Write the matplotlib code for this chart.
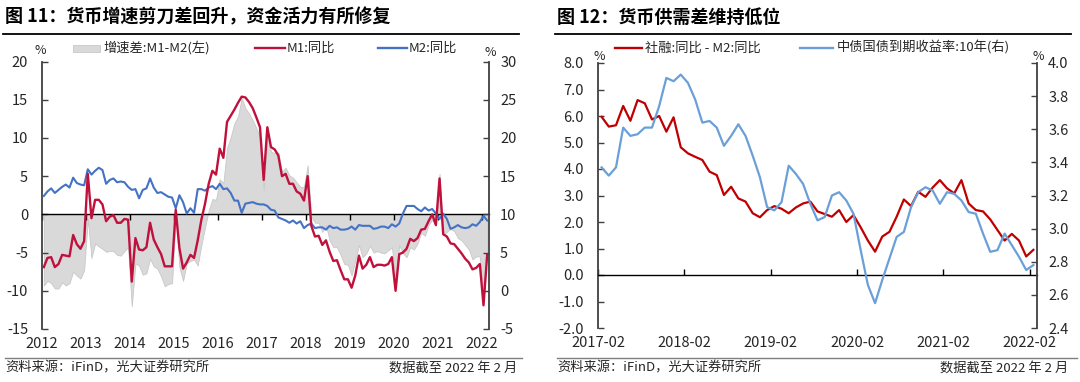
import matplotlib
matplotlib.use("Agg")
import matplotlib.pyplot as plt
import numpy as np
from matplotlib.lines import Line2D
from matplotlib.patches import Rectangle
from matplotlib.ticker import FormatStrFormatter

plt.rcParams["font.family"] = ["Noto Sans CJK SC", "DejaVu Sans"]
plt.rcParams["axes.unicode_minus"] = False

# ---- left chart: M1 / M2 yoy, monthly 2012-01 .. 2022-02 ----
years_left = [str(y) for y in range(2012, 2023)]
m1_yoy = [
    3.1, 4.3, 4.4, 3.1, 3.5, 4.7, 4.6, 4.5, 7.3, 6.1, 5.5, 6.5,
    15.3, 9.5, 11.9, 11.9, 11.3, 9.1, 9.7, 9.9, 8.9, 8.9, 9.4, 9.3,
    1.2, 6.9, 5.4, 5.3, 5.7, 8.9, 6.7, 5.7, 4.8, 3.2, 3.2, 3.2,
    10.6, 5.6, 2.9, 3.7, 4.7, 4.3, 6.6, 9.3, 11.4, 14.0, 15.7, 15.2,
    18.6, 17.4, 22.1, 22.9, 23.7, 24.6, 25.4, 25.3, 24.7, 23.9, 22.7, 21.4,
    14.5, 21.4, 18.8, 18.5, 17.7, 15.0, 15.3, 14.0, 14.0, 13.0, 12.7, 11.8,
    15.0, 8.5, 7.1, 7.2, 6.0, 6.6, 5.1, 3.9, 4.0, 2.7, 1.5, 1.5,
    0.4, 2.0, 4.6, 2.9, 3.4, 4.4, 3.1, 3.4, 3.4, 3.3, 3.5, 4.4,
    0.0, 4.8, 5.0, 5.5, 6.8, 6.5, 6.9, 8.0, 8.1, 9.1, 10.0, 8.6,
    14.7, 7.4, 7.1, 6.2, 6.1, 5.5, 4.9, 4.2, 3.7, 2.8, 3.0, 3.5,
    -1.9, 4.7,
]
m2_yoy = [
    12.4, 13.0, 13.4, 12.8, 13.2, 13.6, 13.9, 13.5, 14.8, 14.1, 13.9, 13.8,
    15.9, 15.2, 15.7, 16.1, 15.8, 14.0, 14.5, 14.7, 14.2, 14.3, 14.2, 13.6,
    13.2, 13.3, 12.1, 13.2, 13.4, 14.7, 13.5, 12.8, 12.9, 12.6, 12.3, 12.2,
    10.8, 12.5, 11.6, 10.1, 10.8, 10.2, 13.3, 13.3, 13.1, 13.5, 13.7, 13.3,
    14.0, 13.3, 13.4, 12.8, 11.8, 11.8, 10.2, 11.4, 11.5, 11.6, 11.4, 11.3,
    11.3, 11.1, 10.6, 10.5, 9.6, 9.4, 9.2, 8.9, 9.2, 8.8, 9.1, 8.2,
    8.6, 8.8, 8.2, 8.3, 8.3, 8.0, 8.5, 8.2, 8.3, 8.0, 8.0, 8.1,
    8.4, 8.0, 8.6, 8.5, 8.5, 8.5, 8.1, 8.2, 8.4, 8.4, 8.2, 8.7,
    8.4, 8.8, 10.1, 11.1, 11.1, 11.1, 10.7, 10.4, 10.9, 10.5, 10.7, 10.1,
    9.4, 10.1, 9.4, 8.1, 8.3, 8.6, 8.3, 8.2, 8.3, 8.7, 8.5, 9.0,
    9.8, 9.2,
]

# ---- right chart: TSF yoy - M2 yoy and 10y CGB yield, monthly 2017-02 .. 2022-02 ----
months_right = ["2017-02", "2018-02", "2019-02", "2020-02", "2021-02", "2022-02"]
tsf_m2_gap = [
    5.97, 5.6, 5.65, 6.38, 5.82, 6.6, 6.48, 5.87, 6.0, 5.41,
    5.95, 4.82, 4.59, 4.46, 4.34, 3.9, 3.77, 3.02, 3.33, 2.89,
    2.77, 2.33, 2.18, 2.45, 2.6, 2.5, 2.33, 2.55, 2.7, 2.77,
    2.4, 2.3, 2.2, 2.45, 2.0, 2.26, 1.8, 1.3, 0.88, 1.45,
    1.63, 2.2, 2.85, 2.6, 3.14, 2.95, 3.3, 3.58, 3.27, 3.08,
    3.58, 2.7, 2.45, 2.4, 2.1, 1.7, 1.3, 1.55, 1.3, 0.7, 0.95,
]
cgb_10y = [
    3.37, 3.32, 3.37, 3.61, 3.56, 3.57, 3.61, 3.61, 3.74, 3.91,
    3.89, 3.93, 3.88, 3.78, 3.64, 3.65, 3.61, 3.5, 3.56, 3.63,
    3.56, 3.44, 3.31, 3.13, 3.11, 3.16, 3.38, 3.33, 3.27, 3.15,
    3.05, 3.07, 3.2, 3.22, 3.17, 3.09, 2.87, 2.66, 2.55, 2.69,
    2.82, 2.95, 2.98, 3.13, 3.22, 3.25, 3.23, 3.15, 3.22, 3.21,
    3.17, 3.1, 3.09, 2.97, 2.86, 2.87, 2.97, 2.9, 2.83, 2.75, 2.78,
]

W, H = 1080, 382
SPINE = "#404040"
TXT = "#262626"
TICK_FS = 10.5

fig = plt.figure(figsize=(W / 100, H / 100), dpi=100)


def fx(px):
    return px / W


def fy(py):
    return 1 - py / H


def box(x0, y0, x1, y1):
    return [fx(x0), fy(y1), fx(x1) - fx(x0), fy(y0) - fy(y1)]


def hline(x0, x1, y, color, lw):
    fig.add_artist(Line2D([fx(x0), fx(x1)], [fy(y), fy(y)], transform=fig.transFigure, color=color, lw=lw))


def text(x, y, s, **kw):
    kw.setdefault("va", "center")
    kw.setdefault("color", TXT)
    fig.text(fx(x), fy(y), s, **kw)


def frame(ax, ax2, n, tick_labels, xdir):
    """Common axis styling: zero line with ticks, labels at the bottom, inward y ticks."""
    ticks = np.arange(-0.5, n - 0.5, 12)[: len(tick_labels)]
    ax.set_xlim(-0.5, n - 0.5)
    ax.spines["top"].set_visible(False)
    ax.spines["right"].set_visible(False)
    ax.spines["left"].set_color(SPINE)
    ax.spines["left"].set_linewidth(1.3)
    ax.spines["bottom"].set_position(("data", 0))
    ax.spines["bottom"].set_color("black")
    ax.spines["bottom"].set_linewidth(1.0)
    ax.set_xticks(ticks)
    ax.tick_params(axis="x", direction=xdir, length=4, width=1, color="black", labelbottom=False)
    ax.tick_params(axis="y", direction="in", length=4, width=1, color=SPINE, pad=10,
                   labelsize=TICK_FS, labelcolor=TXT)
    sec = ax.secondary_xaxis(0)
    sec.set_xticks(ticks, labels=tick_labels)
    sec.tick_params(length=0, pad=6, labelsize=TICK_FS, labelcolor=TXT)
    sec.spines["bottom"].set_visible(False)
    for s in ["top", "left", "bottom"]:
        ax2.spines[s].set_visible(False)
    ax2.spines["right"].set_color(SPINE)
    ax2.spines["right"].set_linewidth(1.3)
    ax2.tick_params(axis="y", direction="in", length=4, width=1, color=SPINE, pad=8,
                    labelsize=TICK_FS, labelcolor=TXT)


# ================= left chart =================
x1 = np.arange(len(m1_yoy))
gap = np.array(m1_yoy) - np.array(m2_yoy)

ax = fig.add_axes(box(42, 61.5, 489, 329))
ax.fill_between(x1, gap, 0, facecolor="#D9D9D9", edgecolor="#C8C8C8", lw=0.6)
ax.set_ylim(-15, 20)
ax.set_yticks(np.arange(-15, 21, 5))
ax2 = ax.twinx()
ax2.plot(x1, m2_yoy, color="#4472C4", lw=1.5)
ax2.plot(x1, m1_yoy, color="#C0103C", lw=1.7)
ax2.set_ylim(-5, 30)
ax2.set_yticks(np.arange(-5, 31, 5))
frame(ax, ax2, len(x1), years_left, "out")

text(5, 17, "图 11：货币增速剪刀差回升，资金活力有所修复", fontsize=13, fontweight="bold", color="black")
hline(3, 519, 34, "black", 1.3)
text(40, 51, "%", fontsize=9, ha="center")
text(490, 52, "%", fontsize=9, ha="center")
fig.add_artist(Rectangle((fx(73), fy(52)), fx(100) - fx(73), fy(45) - fy(52), transform=fig.transFigure,
                         facecolor="#D9D9D9", edgecolor="#C8C8C8", lw=0.6))
text(103, 48, "增速差:M1-M2(左)", fontsize=9.5)
hline(255, 285, 48, "#C0103C", 1.7)
text(287, 48, "M1:同比", fontsize=9.5)
hline(378, 407, 48, "#4472C4", 1.7)
text(409, 48, "M2:同比", fontsize=9.5)
hline(5, 522, 358, "#7F7F7F", 1.0)
text(5, 368, "资料来源：iFinD，光大证券研究所", fontsize=9.5)
text(517, 368, "数据截至 2022 年 2 月", fontsize=9.5, ha="right")

# ================= right chart =================
x2 = np.arange(len(tsf_m2_gap))

ax3 = fig.add_axes(box(598, 63, 1037, 328))
ax3.plot(x2, tsf_m2_gap, color="#C00000", lw=1.6)
ax3.set_ylim(-2, 8)
ax3.set_yticks(np.arange(-2, 9, 1))
ax3.yaxis.set_major_formatter(FormatStrFormatter("%.1f"))
ax4 = ax3.twinx()
ax4.plot(x2, cgb_10y, color="#6A9FD8", lw=1.6)
ax4.set_ylim(2.4, 4.0)
ax4.set_yticks(np.round(np.arange(2.4, 4.01, 0.2), 1))
ax4.yaxis.set_major_formatter(FormatStrFormatter("%.1f"))
frame(ax3, ax4, len(x2), months_right, "in")

text(557, 17, "图 12：货币供需差维持低位", fontsize=13, fontweight="bold", color="black")
hline(555, 1071, 34, "black", 1.3)
text(599, 57, "%", fontsize=9, ha="center")
text(1038, 57, "%", fontsize=9, ha="center")
hline(615, 642, 48, "#C00000", 1.7)
text(645, 48, "社融:同比 - M2:同比", fontsize=9.5)
hline(800, 833, 48, "#6A9FD8", 1.7)
text(837, 48, "中债国债到期收益率:10年(右)", fontsize=9.5)
hline(557, 1077, 358, "#7F7F7F", 1.0)
text(557, 368, "资料来源：iFinD，光大证券研究所", fontsize=9.5)
text(1068, 368, "数据截至 2022 年 2 月", fontsize=9.5, ha="right")

fig.savefig("out.png", dpi=100)
